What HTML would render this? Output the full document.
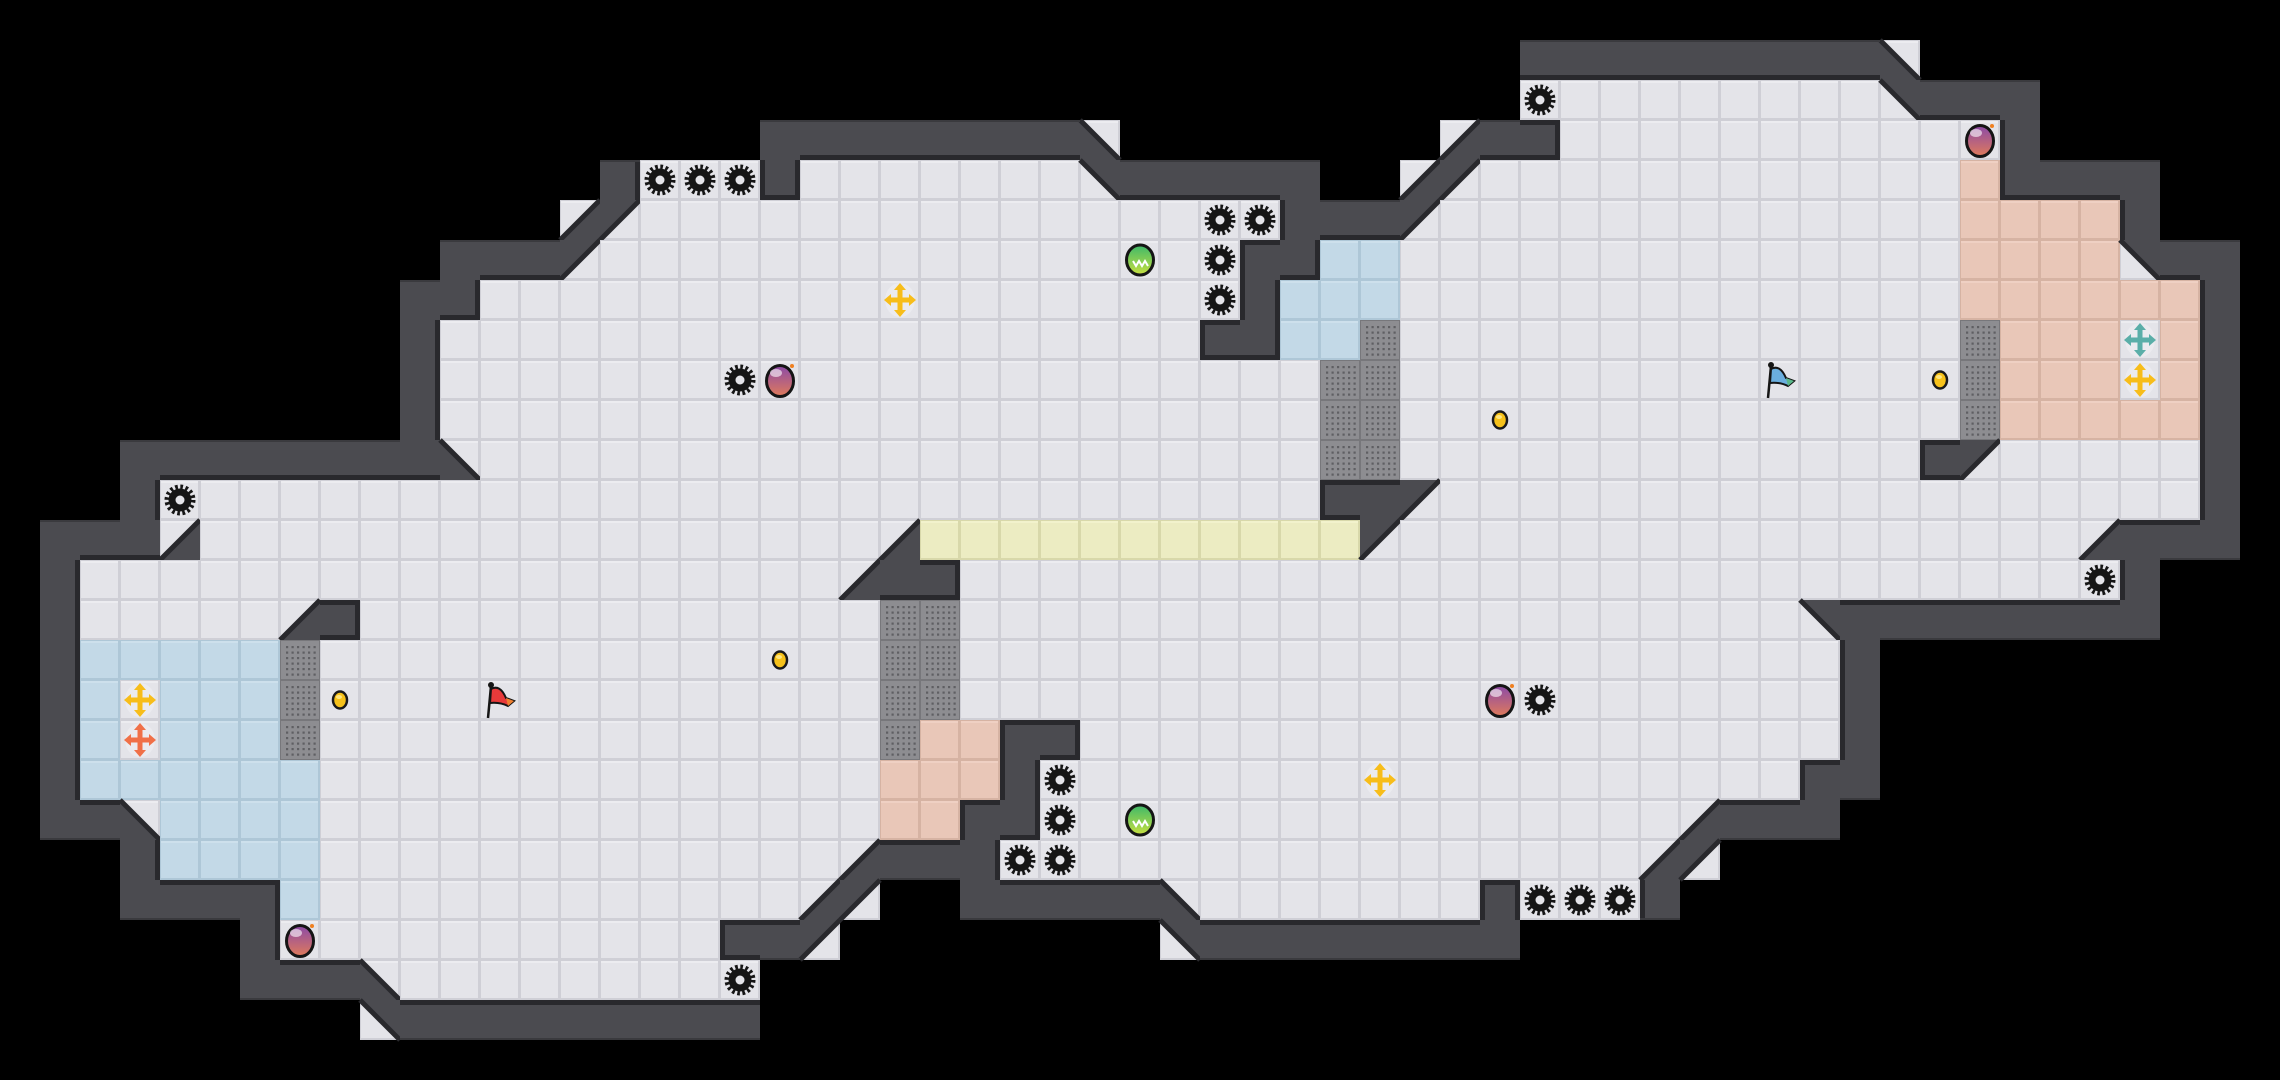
<!DOCTYPE html>
<html><head><meta charset="utf-8"><style>
html,body{margin:0;padding:0;background:#000;width:2280px;height:1080px;overflow:hidden}
svg{display:block}
</style></head><body>
<svg id="s" xmlns="http://www.w3.org/2000/svg" width="2280" height="1080" viewBox="0 0 2280 1080">
<defs>
<linearGradient id="bomb" x1="0" y1="0" x2="0" y2="1"><stop offset="0" stop-color="#8b4aa8"/><stop offset="1" stop-color="#e07a5a"/></linearGradient>
<linearGradient id="grn" x1="0" y1="0" x2="0" y2="1"><stop offset="0" stop-color="#3db86a"/><stop offset="1" stop-color="#c8e040"/></linearGradient>
</defs>
<rect width="2280" height="1080" fill="#000"/>
</svg>
<script>
var W=57,H=27,g=[],objs=[];
for(var r=0;r<H;r++){g.push([]);for(var c=0;c<W;c++)g[r].push(' ');}
function S(r,a,b,ch){for(var c=a;c<=b;c++)g[r][c]=ch;}
function O(r,c,t,bg){objs.push([r,c,t]);g[r][c]=bg||'.';}
// row 1
S(1,38,46,'#');S(1,47,47,'1');
// row 2
S(2,38,46,'.');O(2,38,'o');S(2,47,47,'4');S(2,48,50,'#');
// row 3
S(3,19,26,'#');S(3,27,27,'1');S(3,36,36,'2');S(3,37,38,'#');S(3,39,49,'.');O(3,49,'m');S(3,50,50,'#');
// row 4
S(4,15,15,'#');S(4,16,18,'.');O(4,16,'o');O(4,17,'o');O(4,18,'o');S(4,19,19,'#');S(4,20,26,'.');S(4,27,27,'4');S(4,28,32,'#');S(4,35,35,'2');S(4,36,36,'3');S(4,37,48,'.');S(4,49,49,'p');S(4,50,53,'#');
// row 5
S(5,14,14,'2');S(5,15,15,'3');S(5,16,31,'.');O(5,30,'o');O(5,31,'o');S(5,32,34,'#');S(5,35,35,'3');S(5,36,48,'.');S(5,49,52,'p');S(5,53,53,'#');
// row 6
S(6,11,13,'#');S(6,14,14,'3');S(6,15,30,'.');O(6,28,'G');O(6,30,'o');S(6,31,32,'#');S(6,33,34,'b');S(6,35,48,'.');S(6,49,52,'p');S(6,53,53,'4');S(6,54,55,'#');
// row 7
S(7,10,11,'#');S(7,12,30,'.');O(7,22,'Y');O(7,30,'o');S(7,31,31,'#');S(7,32,34,'b');S(7,35,48,'.');S(7,49,54,'p');S(7,55,55,'#');
// row 8
S(8,10,10,'#');S(8,11,29,'.');S(8,30,31,'#');S(8,32,33,'b');S(8,34,34,'g');S(8,35,48,'.');S(8,49,49,'g');S(8,50,52,'p');O(8,53,'T');S(8,54,54,'p');S(8,55,55,'#');
// row 9
S(9,10,10,'#');S(9,11,32,'.');O(9,18,'o');O(9,19,'m');S(9,33,34,'g');S(9,35,48,'.');O(9,44,'B');O(9,48,'c');S(9,49,49,'g');S(9,50,52,'p');O(9,53,'Y');S(9,54,54,'p');S(9,55,55,'#');
// row 10
S(10,10,10,'#');S(10,11,32,'.');S(10,33,34,'g');S(10,35,48,'.');O(10,37,'c');S(10,49,49,'g');S(10,50,54,'p');S(10,55,55,'#');
// row 11
S(11,3,10,'#');S(11,11,11,'1');S(11,12,32,'.');S(11,33,34,'g');S(11,35,47,'.');S(11,48,48,'#');S(11,49,49,'3');S(11,50,54,'.');S(11,55,55,'#');
// row 12
S(12,3,3,'#');S(12,4,32,'.');O(12,4,'o');S(12,33,34,'#');S(12,35,35,'3');S(12,36,54,'.');S(12,55,55,'#');
// row 13
S(13,1,3,'#');S(13,4,4,'2');S(13,5,21,'.');S(13,22,22,'2');S(13,23,33,'y');S(13,34,34,'3');S(13,35,51,'.');S(13,52,52,'2');S(13,53,55,'#');
// row 14
S(14,1,1,'#');S(14,2,20,'.');S(14,21,21,'2');S(14,22,23,'#');S(14,24,52,'.');O(14,52,'o');S(14,53,53,'#');
// row 15
S(15,1,1,'#');S(15,2,6,'.');S(15,7,7,'2');S(15,8,8,'#');S(15,9,21,'.');S(15,22,23,'g');S(15,24,44,'.');S(15,45,45,'4');S(15,46,53,'#');
// row 16
S(16,1,1,'#');S(16,2,6,'b');S(16,7,7,'g');S(16,8,21,'.');O(16,19,'c');S(16,22,23,'g');S(16,24,45,'.');S(16,46,46,'#');
// row 17
S(17,1,1,'#');S(17,2,6,'b');O(17,3,'Y');S(17,7,7,'g');S(17,8,21,'.');O(17,8,'c');O(17,12,'F');S(17,22,23,'g');S(17,24,45,'.');O(17,37,'m');O(17,38,'o');S(17,46,46,'#');
// row 18
S(18,1,1,'#');S(18,2,6,'b');O(18,3,'R');S(18,7,7,'g');S(18,8,21,'.');S(18,22,22,'g');S(18,23,24,'p');S(18,25,26,'#');S(18,27,45,'.');S(18,46,46,'#');
// row 19
S(19,1,1,'#');S(19,2,7,'b');S(19,8,21,'.');S(19,22,24,'p');S(19,25,25,'#');S(19,26,44,'.');O(19,26,'o');O(19,34,'Y');S(19,45,46,'#');
// row 20
S(20,1,2,'#');S(20,3,3,'1');S(20,4,7,'b');S(20,8,21,'.');S(20,22,23,'p');S(20,24,25,'#');S(20,26,41,'.');O(20,26,'o');O(20,28,'G');S(20,42,42,'2');S(20,43,45,'#');
// row 21
S(21,3,3,'#');S(21,4,7,'b');S(21,8,20,'.');S(21,21,21,'2');S(21,22,24,'#');S(21,25,40,'.');O(21,25,'o');O(21,26,'o');S(21,41,41,'2');S(21,42,42,'3');
// row 22
S(22,3,6,'#');S(22,7,7,'b');S(22,8,19,'.');S(22,20,20,'2');S(22,21,21,'3');S(22,24,28,'#');S(22,29,29,'1');S(22,30,36,'.');S(22,37,37,'#');S(22,38,40,'.');O(22,38,'o');O(22,39,'o');O(22,40,'o');S(22,41,41,'#');
// row 23
S(23,6,6,'#');S(23,7,17,'.');O(23,7,'m');S(23,18,19,'#');S(23,20,20,'3');S(23,29,29,'4');S(23,30,37,'#');
// row 24
S(24,6,8,'#');S(24,9,9,'1');S(24,10,18,'.');O(24,18,'o');
// row 25
S(25,9,9,'4');S(25,10,18,'#');

var out=[];
var col={'.':['#e4e4e9','#cfcfd6','#ececf0'],'b':['#c3d9e7','#aec7d7','#cde0ec'],'p':['#e9c7b8','#d6b3a3','#efd0c3'],'y':['#ececc2','#d8d8aa','#f2f2cc']};
function tileFloor(x,y,t){
 var k=col[t]||col['.'];
 out.push('<rect x="'+x+'" y="'+y+'" width="40" height="40" fill="'+k[1]+'"/>');
 out.push('<rect x="'+(x+1)+'" y="'+(y+1)+'" width="37" height="37" fill="'+k[0]+'"/>');
 out.push('<rect x="'+(x+1)+'" y="'+(y+1)+'" width="37" height="2" fill="'+k[2]+'"/>');
}
function isWall(ch){return ch==='#';}
function isFloor(ch){return ch!=='#'&&ch!==' '&&!/[1-4]/.test(ch);}
function at(r,c){if(r<0||r>=H||c<0||c>=W)return ' ';return g[r][c];}
for(var r=0;r<H;r++)for(var c=0;c<W;c++){
 var ch=g[r][c],x=c*40,y=r*40;
 if(ch===' ')continue;
 if(ch==='#'){
  out.push('<rect x="'+x+'" y="'+y+'" width="40" height="40" fill="#4b4b50"/>');
  continue;
 }
 if(ch==='g'){
  out.push('<rect x="'+x+'" y="'+y+'" width="40" height="40" fill="#77777b"/>');
  out.push('<rect x="'+(x+1)+'" y="'+(y+1)+'" width="38" height="38" fill="#8d8d91"/>');
  for(var i=0;i<6;i++)for(var j=0;j<6;j++)out.push('<rect x="'+(x+6+i*5.5)+'" y="'+(y+6+j*5.5)+'" width="2.2" height="2.2" fill="#5f5f63"/>');
  continue;
 }
 if(/[1-4]/.test(ch)){
  tileFloor(x,y,'.');
  var p,l;
  if(ch==='1'){p=[x,y,x,y+40,x+40,y+40];l=[x,y,x+40,y+40];}
  if(ch==='2'){p=[x+40,y,x+40,y+40,x,y+40];l=[x+40,y,x,y+40];}
  if(ch==='3'){p=[x,y,x+40,y,x,y+40];l=[x+40,y,x,y+40];}
  if(ch==='4'){p=[x,y,x+40,y,x+40,y+40];l=[x,y,x+40,y+40];}
  out.push('<polygon points="'+p.join(',')+'" fill="#4b4b50"/>');
  out.push('<line x1="'+l[0]+'" y1="'+l[1]+'" x2="'+l[2]+'" y2="'+l[3]+'" stroke="#29292d" stroke-width="5"/>');
  continue;
 }
 tileFloor(x,y,ch);
}
// wall edge strips
for(var r=0;r<H;r++)for(var c=0;c<W;c++){
 if(g[r][c]!=='#')continue;var x=c*40,y=r*40;
 if(isFloor(at(r-1,c)))out.push('<rect x="'+x+'" y="'+y+'" width="40" height="5" fill="#29292d"/>');
 if(isFloor(at(r+1,c)))out.push('<rect x="'+x+'" y="'+(y+35)+'" width="40" height="5" fill="#29292d"/>');
 if(isFloor(at(r,c-1)))out.push('<rect x="'+x+'" y="'+y+'" width="5" height="40" fill="#29292d"/>');
 if(isFloor(at(r,c+1)))out.push('<rect x="'+(x+35)+'" y="'+y+'" width="5" height="40" fill="#29292d"/>');
 if(at(r-1,c)===' ')out.push('<rect x="'+x+'" y="'+y+'" width="40" height="2" fill="#3a3a3e"/>');
 if(at(r+1,c)===' ')out.push('<rect x="'+x+'" y="'+(y+38)+'" width="40" height="2" fill="#3a3a3e"/>');
}
function arrows(cx,cy,color){
 var s='<ellipse cx="'+cx+'" cy="'+cy+'" rx="15" ry="17" fill="#ececf0" opacity="0.8"/>';
 s+='<g fill="'+color+'"><rect x="'+(cx-2.5)+'" y="'+(cy-12)+'" width="5" height="24"/><rect x="'+(cx-12)+'" y="'+(cy-2.5)+'" width="24" height="5"/>';
 s+='<polygon points="'+cx+','+(cy-17)+' '+(cx-6)+','+(cy-10)+' '+(cx+6)+','+(cy-10)+'"/>';
 s+='<polygon points="'+cx+','+(cy+17)+' '+(cx-6)+','+(cy+10)+' '+(cx+6)+','+(cy+10)+'"/>';
 s+='<polygon points="'+(cx-16)+','+cy+' '+(cx-9)+','+(cy-6)+' '+(cx-9)+','+(cy+6)+'"/>';
 s+='<polygon points="'+(cx+16)+','+cy+' '+(cx+9)+','+(cy-6)+' '+(cx+9)+','+(cy+6)+'"/></g>';
 return s;
}
objs.forEach(function(o){
 var cx=o[1]*40+20,cy=o[0]*40+20,t=o[2];
 if(t==='o'){
  out.push('<circle cx="'+cx+'" cy="'+cy+'" r="13" fill="none" stroke="#151515" stroke-width="5" stroke-dasharray="2.6 2.5"/>');
  out.push('<circle cx="'+cx+'" cy="'+cy+'" r="11.5" fill="#151515"/>');
  out.push('<circle cx="'+cx+'" cy="'+cy+'" r="4.5" fill="#e4e4e9"/>');
 }else if(t==='c'){
  out.push('<ellipse cx="'+cx+'" cy="'+cy+'" rx="7" ry="8.5" fill="#f7c21a" stroke="#1a1a1a" stroke-width="2.5"/>');
  out.push('<ellipse cx="'+(cx-1)+'" cy="'+(cy-3)+'" rx="3" ry="2" fill="#ffe680"/>');
 }else if(t==='m'){
  out.push('<ellipse cx="'+cx+'" cy="'+(cy+1)+'" rx="13.5" ry="15.5" fill="url(#bomb)" stroke="#151515" stroke-width="3"/>');
  out.push('<ellipse cx="'+(cx-4)+'" cy="'+(cy-7)+'" rx="6" ry="4" fill="#fff" opacity="0.6"/>');
  out.push('<circle cx="'+(cx+12)+'" cy="'+(cy-14)+'" r="2" fill="#f08020"/>');
 }else if(t==='G'){
  out.push('<ellipse cx="'+cx+'" cy="'+cy+'" rx="13.5" ry="15" fill="url(#grn)" stroke="#151515" stroke-width="3"/>');
  out.push('<path d="M'+(cx-7)+','+(cy+1)+' l3,5 l3,-5 l3,5 l3,-5 l3,5" stroke="#fff" stroke-width="2" fill="none"/>');
 }else if(t==='Y'){out.push(arrows(cx,cy,'#f7bd1a'));}
 else if(t==='R'){out.push(arrows(cx,cy,'#f07048'));}
 else if(t==='T'){out.push(arrows(cx,cy,'#5aaea8'));}
 else if(t==='F'||t==='B'){
  var fc=t==='F'?'#e83a3a':'#6aaede',tc=t==='F'?'#f08030':'#5ab88a';
  out.push('<line x1="'+(cx-12)+'" y1="'+(cy+18)+'" x2="'+(cx-9)+'" y2="'+(cy-14)+'" stroke="#151515" stroke-width="2.5"/>');
  out.push('<circle cx="'+(cx-9)+'" cy="'+(cy-15)+'" r="3" fill="#151515"/>');
  out.push('<path d="M'+(cx-9)+','+(cy-11)+' Q'+(cx)+','+(cy-16)+' '+(cx+6)+','+(cy-2)+' L'+(cx+14)+','+(cy+1)+' L'+(cx+8)+','+(cy+6)+' Q'+(cx)+','+(cy+2)+' '+(cx-10)+','+(cy+3)+' Z" fill="'+fc+'" stroke="#151515" stroke-width="2"/>');
  out.push('<path d="M'+(cx+6)+','+(cy-2)+' L'+(cx+14)+','+(cy+1)+' L'+(cx+8)+','+(cy+6)+' Z" fill="'+tc+'"/>');
 }
});
document.getElementById('s').insertAdjacentHTML('beforeend',out.join(''));
</script>
</body></html>
